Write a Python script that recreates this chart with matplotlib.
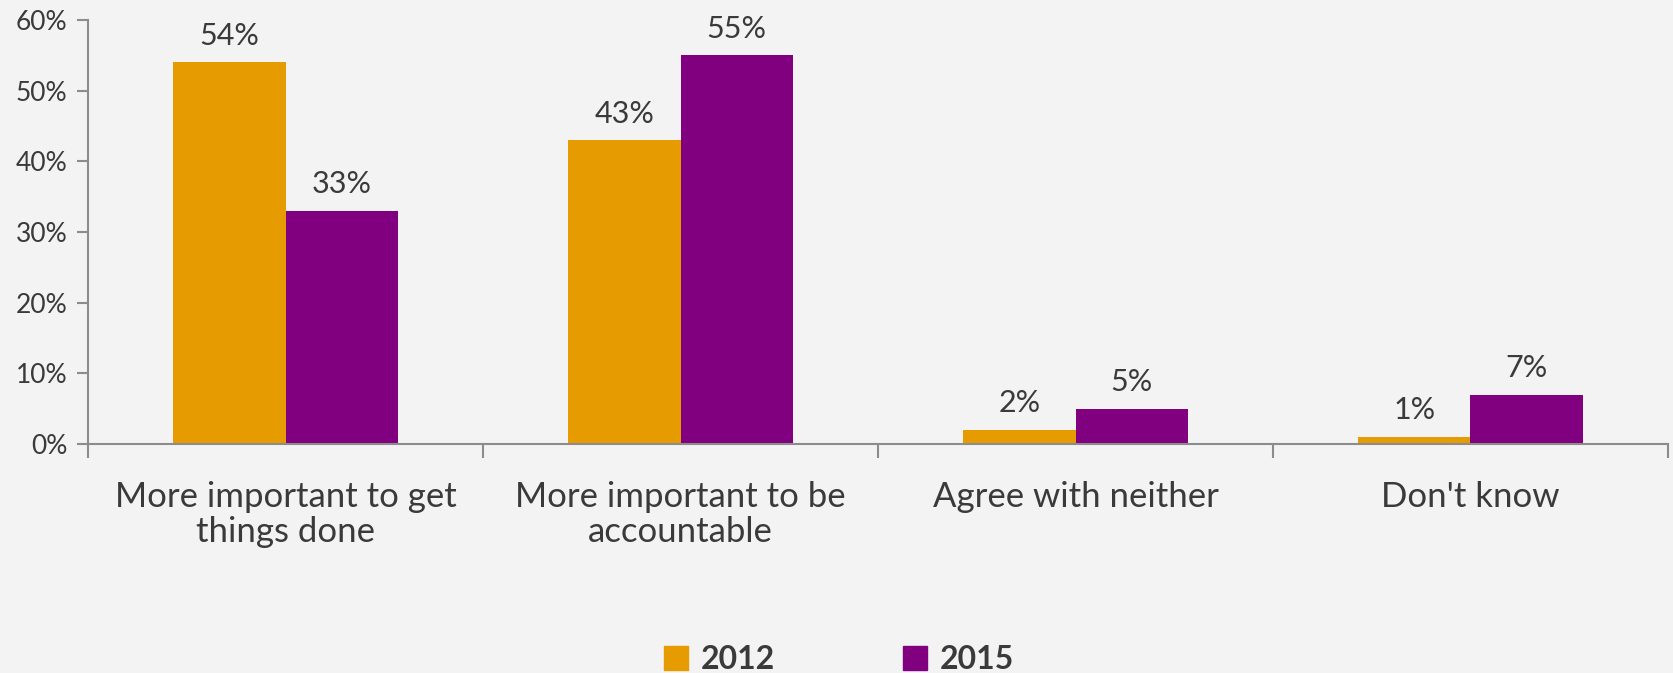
import numpy as np
import matplotlib
matplotlib.use('Agg')
import matplotlib.pyplot as plt
from matplotlib.patches import Patch

plt.rcParams['font.family'] = ['Lato', 'DejaVu Sans']

categories = ['More important to get\nthings done', 'More important to be\naccountable',
              'Agree with neither', "Don't know"]
series = ['2012', '2015']
vals_2012 = [54, 43, 2, 1]
vals_2015 = [33, 55, 5, 7]
yticks = [0, 10, 20, 30, 40, 50, 60]

c12 = '#E69C00'
c15 = '#800080'
txt = '#3a3a3a'
axc = '#8c8c8c'
bg = '#f3f3f3'

fig = plt.figure(figsize=(16.74, 6.73), dpi=100, facecolor=bg)
ax = fig.add_axes([0.0526, 0.3403, 0.9438, 0.63])
ax.set_facecolor(bg)

x = np.arange(len(categories))
w = 0.285
b1 = ax.bar(x - w/2, vals_2012, w, color=c12)
b2 = ax.bar(x + w/2, vals_2015, w, color=c15)

for bars, vals in [(b1, vals_2012), (b2, vals_2015)]:
    for r, v in zip(bars, vals):
        ax.annotate(f'{v}%', (r.get_x() + r.get_width()/2, v), xytext=(0, 9),
                    textcoords='offset points', ha='center', va='bottom',
                    fontsize=22, color=txt)

ax.set_xlim(-0.5, len(categories) - 0.5)
ax.set_ylim(0, 60)
ax.set_yticks(yticks)
ax.set_yticklabels([f'{t}%' for t in yticks], fontsize=19, color=txt)
ax.set_xticks(x)
ax.set_xticklabels(categories, fontsize=25, color=txt, linespacing=1.1)
ax.tick_params(axis='x', length=0, pad=27)
ax.set_xticks(np.arange(len(categories) + 1) - 0.5, minor=True)
ax.tick_params(axis='x', which='minor', length=10, color=axc, width=1.5)
ax.tick_params(axis='y', length=8, color=axc, width=1.5, pad=7)

for s in ['top', 'right']:
    ax.spines[s].set_visible(False)
for s in ['left', 'bottom']:
    ax.spines[s].set_color(axc)
    ax.spines[s].set_linewidth(1.5)

handles = [Patch(color=c12), Patch(color=c15)]
leg = fig.legend(handles, series, loc='center', bbox_to_anchor=(0.501, 0.02), ncol=2,
                 frameon=False, handlelength=0.75, handleheight=0.75, handletextpad=0.4,
                 columnspacing=4.0, prop={'size': 23, 'weight': 'bold'})
for t in leg.get_texts():
    t.set_color(txt)

fig.savefig('out.png', dpi=100, facecolor=bg)
